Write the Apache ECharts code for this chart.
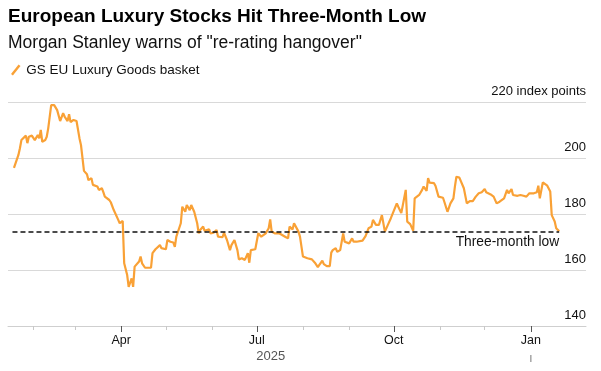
<!DOCTYPE html>
<html>
<head>
<meta charset="utf-8">
<script src="https://cdn.jsdelivr.net/npm/echarts@6/dist/echarts.min.js"></script>
<style>
  html, body { margin: 0; padding: 0; background: #fff; }
  #main { width: 601px; height: 371px; }
</style>
</head>
<body>
<div id="main"></div>
<script>
var titleText = 'European Luxury Stocks Hit Three-Month Low';
var subText = 'Morgan Stanley warns of "re-rating hangover"';
var seriesName = 'GS EU Luxury Goods basket';
var lowLabel = 'Three-month low';
var yearLabel = '2025';
var monthNames = ['Jan', 'Feb', 'Mar', 'Apr', 'May', 'Jun', 'Jul', 'Aug', 'Sep', 'Oct', 'Nov', 'Dec'];
var monthTicks = ['2025-02-01', '2025-03-01', '2025-04-01', '2025-05-01', '2025-06-01', '2025-07-01',
  '2025-08-01', '2025-09-01', '2025-10-01', '2025-11-01', '2025-12-01', '2026-01-01'];
var quarterTicks = ['2025-04-01', '2025-07-01', '2025-10-01', '2026-01-01'];
var yTicks = [140, 160, 180, 200, 220];
var threeMonthLow = 173.8;

var dates = [
  '2025-01-19', '2025-01-20', '2025-01-22', '2025-01-23', '2025-01-24', '2025-01-27', '2025-01-28', '2025-01-29', '2025-01-31',
  '2025-02-02', '2025-02-04', '2025-02-05', '2025-02-06', '2025-02-07', '2025-02-09', '2025-02-10', '2025-02-11', '2025-02-13',
  '2025-02-15', '2025-02-17', '2025-02-19', '2025-02-21', '2025-02-22', '2025-02-24', '2025-02-25', '2025-02-26', '2025-02-28',
  '2025-03-02', '2025-03-03', '2025-03-04', '2025-03-05', '2025-03-07', '2025-03-09', '2025-03-10', '2025-03-12', '2025-03-13',
  '2025-03-16', '2025-03-17', '2025-03-19', '2025-03-20', '2025-03-21', '2025-03-24', '2025-03-25', '2025-03-27', '2025-03-30',
  '2025-03-31', '2025-04-02', '2025-04-03', '2025-04-05', '2025-04-06', '2025-04-08', '2025-04-09', '2025-04-10', '2025-04-13',
  '2025-04-14', '2025-04-15', '2025-04-17', '2025-04-21', '2025-04-22', '2025-04-24', '2025-04-27', '2025-04-28', '2025-05-01',
  '2025-05-02', '2025-05-04', '2025-05-06', '2025-05-07', '2025-05-08', '2025-05-11', '2025-05-12', '2025-05-14', '2025-05-15',
  '2025-05-17', '2025-05-18', '2025-05-20', '2025-05-22', '2025-05-23', '2025-05-24', '2025-05-26', '2025-05-27', '2025-05-30',
  '2025-05-31', '2025-06-02', '2025-06-04', '2025-06-05', '2025-06-08', '2025-06-09', '2025-06-11', '2025-06-13', '2025-06-14',
  '2025-06-16', '2025-06-18', '2025-06-19', '2025-06-21', '2025-06-23', '2025-06-25', '2025-06-26', '2025-06-27', '2025-06-30',
  '2025-07-02', '2025-07-04', '2025-07-07', '2025-07-09', '2025-07-10', '2025-07-11', '2025-07-13', '2025-07-16', '2025-07-18',
  '2025-07-20', '2025-07-22', '2025-07-23', '2025-07-25', '2025-07-26', '2025-07-27', '2025-07-29', '2025-07-30', '2025-08-01',
  '2025-08-04', '2025-08-05', '2025-08-07', '2025-08-09', '2025-08-11', '2025-08-12', '2025-08-14', '2025-08-15', '2025-08-17',
  '2025-08-19', '2025-08-20', '2025-08-21', '2025-08-23', '2025-08-24', '2025-08-26', '2025-08-28', '2025-08-29', '2025-09-01',
  '2025-09-03', '2025-09-04', '2025-09-06', '2025-09-10', '2025-09-12', '2025-09-14', '2025-09-16', '2025-09-17', '2025-09-19',
  '2025-09-21', '2025-09-23', '2025-09-25', '2025-09-27', '2025-09-29', '2025-09-30', '2025-10-03', '2025-10-04', '2025-10-06',
  '2025-10-09', '2025-10-10', '2025-10-12', '2025-10-14', '2025-10-15', '2025-10-18', '2025-10-20', '2025-10-21', '2025-10-23',
  '2025-10-24', '2025-10-25', '2025-10-28', '2025-10-29', '2025-10-31', '2025-11-03', '2025-11-04', '2025-11-06', '2025-11-08',
  '2025-11-10', '2025-11-11', '2025-11-12', '2025-11-14', '2025-11-15', '2025-11-17', '2025-11-19', '2025-11-21', '2025-11-23',
  '2025-11-25', '2025-11-27', '2025-11-29', '2025-12-01', '2025-12-02', '2025-12-05', '2025-12-07', '2025-12-09', '2025-12-11',
  '2025-12-14', '2025-12-16', '2025-12-17', '2025-12-19', '2025-12-20', '2025-12-23', '2025-12-25', '2025-12-27', '2025-12-29',
  '2025-12-31', '2026-01-03', '2026-01-05', '2026-01-06', '2026-01-07', '2026-01-09', '2026-01-12', '2026-01-14', '2026-01-15',
  '2026-01-17', '2026-01-18', '2026-01-20'
];

var values = [
  196.5, 196.3, 201.1, 203.5, 206.4, 208.0, 205.3, 207.6, 208.0,
  206.4, 208.2, 207.0, 210.0, 205.8, 206.4, 207.6, 210.6, 218.9,
  218.9, 217.1, 213.2, 216.0, 214.8, 213.2, 215.6, 212.8, 213.6,
  213.2, 213.0, 207.0, 204.6, 195.4, 194.2, 192.1, 192.8, 190.4,
  189.8, 188.6, 189.2, 187.8, 186.2, 185.0, 184.2, 181.4, 177.9,
  176.7, 177.5, 162.4, 158.2, 154.0, 157.0, 154.0, 161.2, 163.0,
  164.8, 162.4, 160.8, 160.8, 166.0, 167.4, 168.9, 167.8, 167.4,
  170.7, 170.1, 169.8, 168.3, 171.9, 176.7, 182.6, 180.8, 183.2,
  181.4, 183.2, 180.8, 176.7, 173.1, 174.3, 175.5, 174.0, 174.5,
  173.1, 173.3, 174.3, 171.9, 171.7, 173.3, 170.7, 167.1, 168.9,
  170.7, 167.1, 163.8, 164.2, 163.6, 166.0, 162.6, 167.1, 167.4,
  173.1, 171.9, 173.1, 174.9, 178.1, 173.7, 173.1, 173.1, 172.5,
  171.9, 171.3, 175.5, 174.5, 176.7, 176.1, 173.7, 171.9, 164.8,
  164.2, 163.6, 163.8, 162.6, 161.0, 161.8, 163.3, 162.1, 161.4,
  161.4, 166.2, 167.1, 167.8, 166.5, 167.1, 173.1, 170.1, 169.5,
  171.3, 170.1, 170.1, 170.5, 172.1, 174.9, 175.5, 177.9, 176.1,
  176.1, 179.6, 173.7, 176.1, 178.5, 177.9, 183.8, 182.6, 180.3,
  188.6, 177.3, 176.4, 174.0, 185.6, 186.8, 188.6, 189.8, 188.3,
  192.8, 191.2, 191.0, 190.0, 186.2, 185.8, 184.2, 180.8, 183.8,
  185.6, 189.8, 193.3, 193.0, 193.0, 189.2, 183.8, 184.6, 184.6,
  186.2, 187.4, 187.8, 188.9, 187.8, 187.0, 186.2, 183.8, 184.4,
  185.6, 188.6, 187.4, 188.9, 186.8, 186.5, 186.8, 186.5, 186.2,
  187.4, 187.4, 187.8, 190.1, 185.6, 191.3, 190.1, 188.0, 179.6,
  177.3, 174.9, 173.8
];

var axisStart = '2025-01-15';
var axisEnd = '2026-02-07';
var lowStart = '2025-01-18';

function ts(d) { return Date.UTC(+d.slice(0, 4), +d.slice(5, 7) - 1, +d.slice(8, 10)); }

var seriesData = dates.map(function (d, i) { return [ts(d), values[i]]; });

var myChart = echarts.init(document.getElementById('main'), null, { renderer: 'canvas' });
var font = '"Liberation Sans", Arial, sans-serif';

var option = {
  animation: false,
  backgroundColor: '#fff',
  textStyle: { fontFamily: font },
  title: {
    text: titleText,
    subtext: subText,
    left: 8,
    top: 7,
    padding: 0,
    itemGap: 8,
    textStyle: { fontSize: 19, fontWeight: 'bold', color: '#000', fontFamily: font },
    subtextStyle: { fontSize: 17.5, color: '#111', fontFamily: font }
  },
  legend: {
    left: 6,
    top: 58,
    itemWidth: 11,
    itemHeight: 11,
    itemGap: 10,
    icon: 'path://M0,10 L8,0 L10,1.6 L2,11.6 Z',
    textStyle: { fontSize: 13.5, color: '#111', fontFamily: font },
    data: [seriesName]
  },
  grid: { left: 8, right: 15, top: 102, bottom: 45 },
  xAxis: [{
    type: 'value',
    min: ts(axisStart),
    max: ts(axisEnd),
    axisLine: { show: true, lineStyle: { color: '#cfcfcf', width: 1 } },
    axisTick: { show: true, length: 4, lineStyle: { color: '#c8c8c8' }, customValues: monthTicks.map(ts) },
    axisLabel: { show: false },
    splitLine: { show: false }
  }, {
    type: 'value',
    position: 'bottom',
    min: ts(axisStart),
    max: ts(axisEnd),
    axisLine: { show: false },
    axisTick: { show: true, length: 6, lineStyle: { color: '#555' }, customValues: quarterTicks.map(ts) },
    axisLabel: {
      show: true,
      margin: 8,
      fontSize: 12.5,
      color: '#111',
      fontFamily: font,
      customValues: quarterTicks.map(ts),
      formatter: function (val) { return monthNames[new Date(val).getUTCMonth()]; }
    },
    splitLine: { show: false }
  }],
  yAxis: {
    type: 'value',
    position: 'right',
    min: yTicks[0],
    max: yTicks[yTicks.length - 1],
    interval: 20,
    axisLine: { show: false },
    axisTick: { show: false },
    splitLine: { show: true, lineStyle: { color: '#d9d9d9', width: 1 } },
    axisLabel: {
      inside: true,
      margin: 0,
      verticalAlign: 'bottom',
      padding: [0, 0, 4, 0],
      fontSize: 13,
      color: '#111',
      fontFamily: font,
      formatter: function (v) { return v === yTicks[yTicks.length - 1] ? v + ' index points' : String(v); }
    }
  },
  series: [{
    name: seriesName,
    type: 'line',
    xAxisIndex: 0,
    data: seriesData,
    showSymbol: false,
    symbol: 'none',
    color: '#f9a136',
    lineStyle: { width: 2.2, color: '#f9a136' },
    z: 3,
    markLine: {
      silent: true,
      symbol: ['none', 'none'],
      lineStyle: { type: [5, 3], color: '#111', width: 1.6 },
      label: {
        show: true,
        position: 'insideEndBottom',
        distance: [0, 4],
        formatter: lowLabel,
        fontSize: 13.8,
        color: '#111',
        fontFamily: font
      },
      data: [[
        { coord: [ts(lowStart), threeMonthLow] },
        { coord: [seriesData[seriesData.length - 1][0], threeMonthLow] }
      ]]
    }
  }]
};

myChart.setOption(option, true);

// year label and the year-break tick under Jan
var janX = myChart.convertToPixel({ xAxisIndex: 0 }, ts(quarterTicks[3]));
var julX = myChart.convertToPixel({ xAxisIndex: 0 }, ts('2025-07-10'));
var baseY = myChart.convertToPixel({ yAxisIndex: 0 }, yTicks[0]);
myChart.setOption({
  graphic: [{
    type: 'text',
    left: julX - 14,
    top: baseY + 24,
    style: { text: yearLabel, fill: '#555', font: '13px ' + font, letterSpacing: 1.2 }
  }, {
    type: 'line',
    shape: { x1: janX, y1: baseY + 29, x2: janX, y2: baseY + 36 },
    style: { stroke: '#777', lineWidth: 1 }
  }]
});

window.onresize = function () { myChart.resize(); };
</script>
</body>
</html>
